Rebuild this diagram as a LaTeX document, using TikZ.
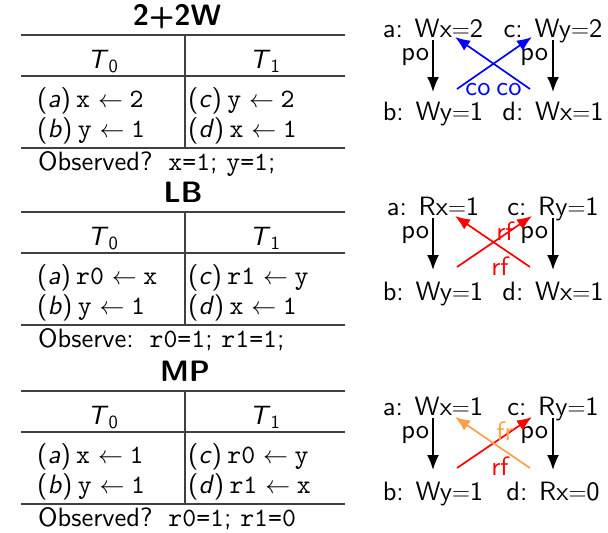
\documentclass[tikz,border=0pt]{standalone}
\usepackage{fontspec}
\setsansfont{lmsans10-regular.otf}[BoldFont=lmsans10-bold.otf, ItalicFont=lmsans10-oblique.otf, BoldItalicFont=lmsans10-boldoblique.otf]
\setmonofont{lmmono10-regular.otf}
\usetikzlibrary{arrows.meta}
\definecolor{frorange}{RGB}{250,160,70}
\newcommand\mainf{\fontsize{26.5}{30}\selectfont\sffamily}
\newcommand\ttlf{\fontsize{29.5}{33}\selectfont\sffamily\bfseries}
\newcommand\Tz[1]{\textit{T}$_{\mathsf{#1}}$}
\newcommand\asg[2]{\texttt{#1}\hspace{0.3em}$\leftarrow$\hspace{0.25em}\texttt{#2}}
\newcommand\obsgap{\hspace{0.6em}}
\newcommand\littab[9]{%
\begin{scope}[shift={(0,#1)}, name prefix=#2-]
\node[ttl] (title) at (#4,25) {#3};
\draw[tline] (21,35) -- (345,35);
\draw[tline] (21,76) -- (345,76);
\draw[tline] (21,148) -- (345,148);
\draw[tline] (185,35) -- (185,148);
\node[txt] (h0) at (103,68) {\Tz{0}};
\node[txt] (h1) at (265,68) {\Tz{1}};
\node[txt,anchor=base west] (a) at (37,107) {(\textit{a})\hspace{0.2em}#5};
\node[txt,anchor=base west] (b) at (37,137) {(\textit{b})\hspace{0.2em}#6};
\node[txt,anchor=base west] (c) at (188,107) {(\textit{c})\hspace{0.2em}#7};
\node[txt,anchor=base west] (d) at (188,137) {(\textit{d})\hspace{0.2em}#8};
\node[txt,anchor=base west] (obs) at (38,170) {#9};
\end{scope}}
\tikzset{
  txt/.style={font=\mainf, inner sep=0, anchor=base},
  ttl/.style={font=\ttlf, inner sep=0, anchor=base},
  tline/.style={draw=black!75, line width=1.2},
  ev/.style={font=\mainf, inner sep=0, anchor=base},
  lbl/.style={font=\mainf, inner sep=0, anchor=base},
  po/.style={draw=black, line width=1.7, -{Latex[length=15,width=12]}},
  cross/.style={line width=1.7, -{Latex[length=15,width=12]}},
}
\begin{document}
\begin{tikzpicture}[x=1pt,y=-1pt]
\useasboundingbox (0,0) rectangle (608,533);
\littab{0}{t1}{2+2W}{177}{\asg{x}{2}}{\asg{y}{1}}{\asg{y}{2}}{\asg{x}{1}}{Observed?\obsgap\texttt{x=1}; \texttt{y=1};}
\littab{177}{t2}{LB}{183}{\asg{r0}{x}}{\asg{y}{1}}{\asg{r1}{y}}{\asg{x}{1}}{Observe:\obsgap\texttt{r0=1}; \texttt{r1=1};}
\littab{356}{t3}{MP}{185}{\asg{x}{1}}{\asg{y}{1}}{\asg{r0}{y}}{\asg{r1}{x}}{Observed?\obsgap\texttt{r0=1}; \texttt{r1=0}}
% graph 1
\begin{scope}[name prefix=g1-]
\node[ev] (a) at (433,37) {a: Wx$=$2};
\node[ev] (c) at (553,37) {c: Wy$=$2};
\node[ev] (b) at (433,120) {b: Wy$=$1};
\node[ev] (d) at (553,120) {d: Wx$=$1};
\draw[po] ([shift={(0,3)}]a.base) -- node[lbl,pos=0.4,anchor=base east,xshift=-3pt] (pl) {po} ([shift={(0,-28)}]b.base);
\draw[po] ([shift={(0,3)}]c.base) -- node[lbl,pos=0.4,anchor=base east,xshift=-4pt] (pr) {po} ([shift={(0,-28)}]d.base);
\draw[cross,blue] ([shift={(24,-31)}]b.base) -- ([shift={(-21,0)}]c.base);
\draw[cross,blue] ([shift={(-23,-31)}]d.base) -- ([shift={(22,0)}]a.base);
\node[lbl,text=blue] (co1) at (478,95) {co};
\node[lbl,text=blue] (co2) at (509,95) {co};
\end{scope}
% graph 2
\begin{scope}[name prefix=g2-]
\node[ev] (a) at (433,215) {a: Rx$=$1};
\node[ev] (c) at (553,215) {c: Ry$=$1};
\node[ev] (b) at (433,300) {b: Wy$=$1};
\node[ev] (d) at (553,300) {d: Wx$=$1};
\draw[po] ([shift={(0,3)}]a.base) -- node[lbl,pos=0.4,anchor=base east,xshift=-3pt] (pl) {po} ([shift={(0,-30)}]b.base);
\draw[po] ([shift={(0,3)}]c.base) -- node[lbl,pos=0.4,anchor=base east,xshift=-4pt] (pr) {po} ([shift={(0,-30)}]d.base);
\draw[cross,red] ([shift={(24,-33)}]b.base) -- ([shift={(-21,1)}]c.base);
\draw[cross,red] ([shift={(-23,-33)}]d.base) -- ([shift={(22,1)}]a.base);
\node[lbl,text=red] (rf1) at (505,240) {rf};
\node[lbl,text=red] (rf2) at (500,275) {rf};
\end{scope}
% graph 3
\begin{scope}[name prefix=g3-]
\node[ev] (a) at (433,415) {a: Wx$=$1};
\node[ev] (c) at (553,415) {c: Ry$=$1};
\node[ev] (b) at (433,500) {b: Wy$=$1};
\node[ev] (d) at (553,500) {d: Rx$=$0};
\draw[po] ([shift={(0,3)}]a.base) -- node[lbl,pos=0.4,anchor=base east,xshift=-3pt] (pl) {po} ([shift={(0,-30)}]b.base);
\draw[po] ([shift={(0,3)}]c.base) -- node[lbl,pos=0.4,anchor=base east,xshift=-4pt] (pr) {po} ([shift={(0,-30)}]d.base);
\draw[cross,red] ([shift={(24,-32)}]b.base) -- ([shift={(-21,2)}]c.base);
\draw[cross,frorange] ([shift={(-23,-32)}]d.base) -- ([shift={(22,2)}]a.base);
\node[lbl,text=frorange] (fr) at (505,440) {fr};
\node[lbl,text=red] (rf) at (500,475) {rf};
\end{scope}
\end{tikzpicture}
\end{document}
